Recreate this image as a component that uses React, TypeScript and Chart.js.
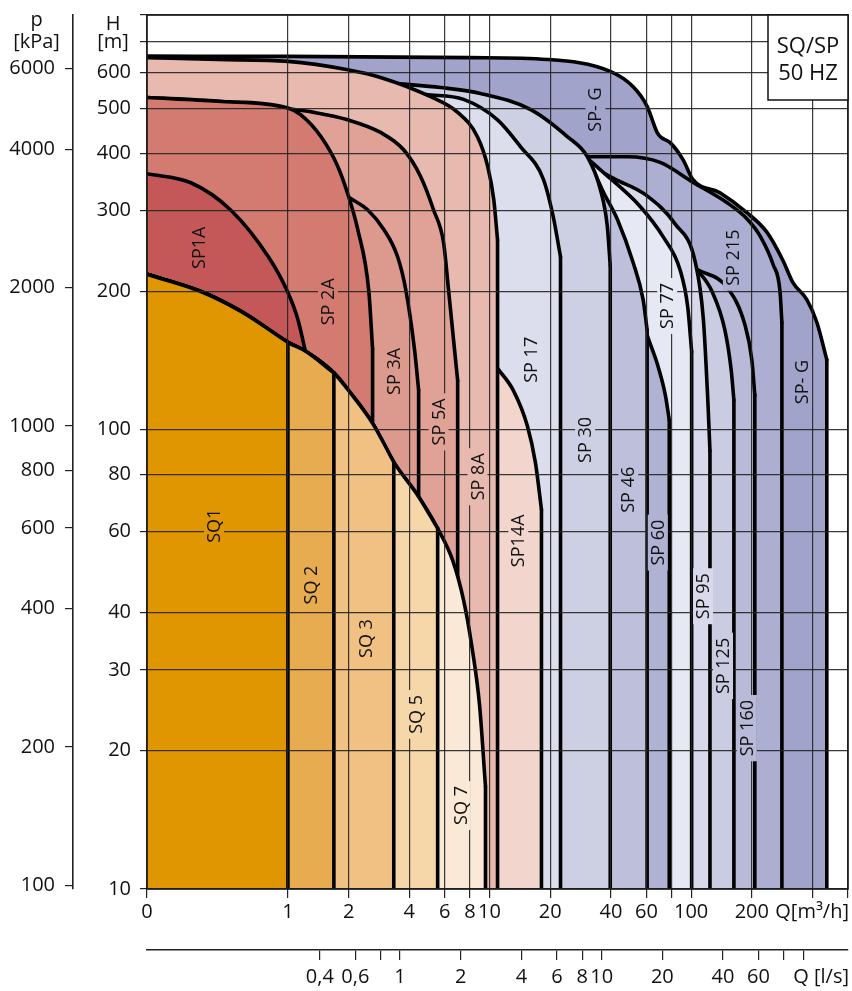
import React, { useEffect, useRef } from 'react';
import { Chart, registerables } from 'chart.js';

Chart.register(...registerables);

type Pt = [number, number];

// ---------- axes ----------
const Q_TICKS = [0.2, 1, 2, 4, 6, 8, 10, 20, 40, 60, 80, 100, 200, 400, 600];
const Q_LABELS = ['0', '1', '2', '4', '6', '8', '10', '20', '40', '60', '', '100', '200', '', ''];
const H_TICKS = [10, 20, 30, 40, 60, 80, 100, 200, 300, 400, 500, 600, 700, 800];
const H_LABELS = ['10', '20', '30', '40', '60', '80', '100', '200', '300', '400', '500', '600', '', ''];
const P_TICKS = [100, 200, 400, 600, 800, 1000, 2000, 4000, 6000];
const QLS_TICKS = [0.4, 0.6, 0.8, 1, 2, 4, 6, 8, 10, 20, 40, 60, 80, 100];
const QLS_LABELS = ['0,4', '0,6', '', '1', '2', '4', '6', '8', '10', '20', '40', '60', '', ''];

const Q_MIN = 0.2;
const Q_MAX = 600;
const H_MIN = 10;
const H_MAX = 800;
const KPA_PER_M = 9.81;
const M3H_PER_LS = 3.6;

// ---------- curves (Q [m3/h], H [m]) ----------
const SQ_ENVELOPE: Pt[] = [
  [0.2, 218], [0.37, 200], [0.585, 181], [1, 155], [1.23, 148], [1.69, 133], [2.05, 120],
  [2.64, 103], [3.35, 85], [4.45, 71.5], [5.53, 61], [6.56, 52], [7.43, 42.6], [8.15, 34],
  [8.92, 25.2], [9.55, 16.7],
];
const SQ_END = { SQ1: 1, SQ2: 1.69, SQ3: 3.35, SQ5: 5.53, SQ7: 9.55 };

const SP1A: Pt[] = [[0.2, 361], [0.33, 345], [0.52, 301], [0.8, 238], [1, 199], [1.12, 174], [1.23, 146]];
const SP2A: Pt[] = [[0.2, 529], [0.45, 519], [1, 502], [1.16, 485], [1.457, 435], [1.77, 374], [2.0, 322], [2.22, 273], [2.52, 200], [2.63, 150]];
const SP3A: Pt[] = [[2.02, 320], [2.49, 301], [2.99, 273], [3.5, 238], [3.84, 202], [4.25, 149], [4.45, 122]];
const SP5A: Pt[] = [[0.2, 529], [0.45, 519], [1, 500], [1.345, 491], [1.98, 473], [2.88, 444], [3.75, 407], [4.55, 356], [5.28, 301], [5.92, 255], [6.26, 202], [6.63, 157], [6.95, 128]];
const SP8A: Pt[] = [[0.2, 646], [0.45, 640], [1, 634], [1.98, 608], [2.88, 585], [5.1, 531], [6.95, 491], [8.7, 435], [9.8, 374], [10.5, 317], [10.96, 259]];
const SP14A: Pt[] = [[10.96, 136], [13.1, 122], [15.4, 102], [16.9, 84.7], [18.1, 67]];
const SP17: Pt[] = [[4.82, 537], [7.43, 524], [10.96, 473], [14.2, 414], [18.5, 351], [20.7, 291], [22.5, 238]];
const SP30: Pt[] = [[3.5, 567], [5.72, 556], [9.02, 540], [16, 498], [24.3, 435], [30.6, 393], [35.5, 333], [38.4, 277], [39.7, 228]];
const SP46: Pt[] = [[31.3, 385], [36.6, 330], [43.1, 287], [51.6, 231], [57.8, 192], [60.5, 165]];
const SP60: Pt[] = [[56, 182], [60.5, 161], [68, 139], [74.5, 119], [77.9, 105]];
const SP77: Pt[] = [[31, 388], [35.5, 368], [56, 306], [72.7, 263], [88.1, 223], [96.2, 185], [100.6, 148]];
const SP95: Pt[] = [[32, 374], [42.1, 351], [59.3, 325], [83.6, 280], [104.8, 232], [115, 174], [121, 116], [124, 90]];
const SP125: Pt[] = [[105, 226], [127, 200], [147, 165], [158, 135], [163, 116]];
const SP160: Pt[] = [[108, 223], [151, 204], [185, 169], [200, 142], [207, 119]];
const SP215: Pt[] = [[30.6, 393], [48.2, 393], [70.2, 382], [101.9, 346], [151, 312], [189, 288], [220, 264], [255, 229], [276, 200], [282, 171]];
const SPG: Pt[] = [[0.2, 651], [1, 650], [8, 646], [19.4, 640], [39.7, 603], [51.6, 558], [60.5, 506], [68, 443], [71, 433], [78.7, 422], [91.3, 387], [101.9, 351], [139, 328], [189, 297], [238, 269], [285, 234], [320, 209], [375, 192], [421, 171], [471, 142]];

const sq = (end: number): Pt[] => SQ_ENVELOPE.filter((p) => p[0] <= end + 1e-9);

// listed top (drawn last) to bottom (drawn first)
const REGIONS: { key: string; color: string; curve: Pt[] }[] = [
  { key: 'SQ1', color: '#E09600', curve: sq(SQ_END.SQ1) },
  { key: 'SQ2', color: '#E8AC50', curve: sq(SQ_END.SQ2) },
  { key: 'SQ3', color: '#F0C182', curve: sq(SQ_END.SQ3) },
  { key: 'SQ5', color: '#F6D7A9', curve: sq(SQ_END.SQ5) },
  { key: 'SQ7', color: '#FAE9D6', curve: sq(SQ_END.SQ7) },
  { key: 'SP1A', color: '#C45858', curve: SP1A },
  { key: 'SP2A', color: '#D47B71', curve: SP2A },
  { key: 'SP3A', color: '#DC9A8E', curve: SP3A },
  { key: 'SP5A', color: '#E0A296', curve: SP5A },
  { key: 'SP8A', color: '#E8B9AF', curve: SP8A },
  { key: 'SP14A', color: '#F2D6CE', curve: SP14A },
  { key: 'SP17', color: '#DCDDED', curve: SP17 },
  { key: 'SP30', color: '#CDD0E3', curve: SP30 },
  { key: 'SP46', color: '#BDBFDB', curve: SP46 },
  { key: 'SP60', color: '#B0B2D4', curve: SP60 },
  { key: 'SP77', color: '#E6E8F4', curve: SP77 },
  { key: 'SP95', color: '#D8DAEB', curve: SP95 },
  { key: 'SP125', color: '#CACCE1', curve: SP125 },
  { key: 'SP160', color: '#B8BAD8', curve: SP160 },
  { key: 'SP215', color: '#ADAFD2', curve: SP215 },
  { key: 'SPG', color: '#A1A3CB', curve: SPG },
];

const LABELS: { text: string; q: number; h: number; region: string }[] = [
  { text: 'SQ1', q: 0.43, h: 61.8, region: 'SQ1' },
  { text: 'SQ 2', q: 1.3, h: 45.9, region: 'SQ2' },
  { text: 'SQ 3', q: 2.43, h: 35.1, region: 'SQ3' },
  { text: 'SQ 5', q: 4.3, h: 24.0, region: 'SQ5' },
  { text: 'SQ 7', q: 7.19, h: 15.2, region: 'SQ7' },
  { text: 'SP1A', q: 0.362, h: 249, region: 'SP1A' },
  { text: 'SP 2A', q: 1.58, h: 190, region: 'SP2A' },
  { text: 'SP 3A', q: 3.35, h: 134, region: 'SP3A' },
  { text: 'SP 5A', q: 5.59, h: 104, region: 'SP5A' },
  { text: 'SP 8A', q: 8.72, h: 79, region: 'SP8A' },
  { text: 'SP14A', q: 13.9, h: 57.3, region: 'SP14A' },
  { text: 'SP 17', q: 16.1, h: 142, region: 'SP17' },
  { text: 'SP 30', q: 29.8, h: 95, region: 'SP30' },
  { text: 'SP 46', q: 48.8, h: 74, region: 'SP46' },
  { text: 'SP 60', q: 68.3, h: 56.8, region: 'SP60' },
  { text: 'SP 77', q: 76.1, h: 186, region: 'SP77' },
  { text: 'SP 95', q: 114.6, h: 43.4, region: 'SP95' },
  { text: 'SP 125', q: 144, h: 30.6, region: 'SP125' },
  { text: 'SP 160', q: 189, h: 22.4, region: 'SP160' },
  { text: 'SP 215', q: 161, h: 237, region: 'SP215' },
  { text: 'SP- G', q: 33.5, h: 498, region: 'SPG' },
  { text: 'SP- G', q: 355, h: 127, region: 'SPG' },
];

const FONT = '"Open Sans", "Noto Sans", "DejaVu Sans", sans-serif';
const GRID = 'rgba(35,35,35,0.9)';
const INK = '#111';
const LINE_W = 3.6;

const decor = {
  id: 'decor',
  afterDraw(chart: any) {
    const { ctx, chartArea: a, scales } = chart;
    const xs = scales.x;
    const ys = scales.y;
    ctx.save();
    ctx.strokeStyle = '#1a1a1a';
    ctx.lineWidth = 1.6;
    ctx.strokeRect(a.left, a.top, a.right - a.left, a.bottom - a.top);

    ctx.font = `18px ${FONT}`;
    for (const L of LABELS) {
      const reg = REGIONS.find((r) => r.key === L.region);
      const px = xs.getPixelForValue(L.q);
      const py = ys.getPixelForValue(L.h);
      const w = ctx.measureText(L.text).width;
      ctx.save();
      ctx.translate(px, py);
      ctx.rotate(-Math.PI / 2);
      ctx.fillStyle = reg ? reg.color : '#fff';
      ctx.fillRect(-w / 2 - 5, -10, w + 10, 20);
      ctx.fillStyle = INK;
      ctx.textAlign = 'center';
      ctx.textBaseline = 'middle';
      ctx.fillText(L.text, 0, 1);
      ctx.restore();
    }

    const bw = 80;
    const bh = 85;
    ctx.fillStyle = '#fff';
    ctx.fillRect(a.right - bw, a.top, bw, bh);
    ctx.strokeStyle = '#111';
    ctx.lineWidth = 1.5;
    ctx.strokeRect(a.right - bw, a.top, bw, bh);
    ctx.fillStyle = INK;
    ctx.font = `22px ${FONT}`;
    ctx.textAlign = 'center';
    ctx.textBaseline = 'alphabetic';
    ctx.fillText('SQ/SP', a.right - bw / 2, a.top + 38);
    ctx.fillText('50 HZ', a.right - bw / 2, a.top + 65);

    ctx.font = `20px ${FONT}`;
    const pc = (scales.p.left + scales.p.right) / 2;
    ctx.fillText('p', pc, 26);
    ctx.fillText('[kPa]', pc, 48);
    const hc = ys.right - 34;
    ctx.fillText('H', hc, 30);
    ctx.fillText('[m]', hc, 48);

    ctx.textAlign = 'right';
    ctx.textBaseline = 'middle';
    ctx.fillText('Q[m\u00B3/h]', a.right + 1, xs.top + 23);
    ctx.fillText('Q [l/s]', a.right + 1, scales.x2.top + 27);
    ctx.restore();
  },
};

const tickFont = { family: FONT, size: 20 };

const setTicks = (values: number[]) => (axis: any) => {
  axis.ticks = values.map((v) => ({ value: v }));
};

export default function App() {
  const ref = useRef<HTMLCanvasElement>(null);
  useEffect(() => {
    const el = ref.current;
    if (!el) return;
    const datasets: any[] = [];
    for (const r of REGIONS) {
      const last = r.curve[r.curve.length - 1];
      datasets.push({
        label: r.key + ' end',
        data: [{ x: last[0], y: last[1] }, { x: last[0], y: H_MIN }],
        xAxisID: 'x',
        yAxisID: 'y',
        borderColor: '#000',
        borderWidth: LINE_W,
        fill: false,
        pointRadius: 0,
        tension: 0,
        borderCapStyle: 'round',
        clip: 0,
      });
      datasets.push({
        label: r.key,
        data: r.curve.map(([x, y]) => ({ x, y })),
        xAxisID: 'x',
        yAxisID: 'y',
        borderColor: '#000',
        borderWidth: LINE_W,
        backgroundColor: r.color,
        fill: 'start',
        pointRadius: 0,
        cubicInterpolationMode: 'monotone',
        borderJoinStyle: 'round',
        borderCapStyle: 'round',
        clip: 0,
      });
    }
    const chart = new Chart(el, {
      type: 'line',
      data: { datasets } as any,
      options: {
        animation: false,
        responsive: false,
        events: [],
        layout: { padding: { left: 0, top: 15, right: 4, bottom: 0 } },
        plugins: { legend: { display: false }, tooltip: { enabled: false } },
        scales: {
          x: {
            type: 'logarithmic',
            position: 'bottom',
            weight: 0,
            min: Q_MIN,
            max: Q_MAX,
            afterBuildTicks: setTicks(Q_TICKS),
            afterFit: (s: any) => {
              s.height = 61;
              s.paddingLeft = 0;
              s.paddingRight = 0;
            },
            ticks: {
              autoSkip: false,
              maxRotation: 0,
              minRotation: 0,
              padding: 2,
              color: INK,
              font: tickFont,
              callback: (_v: any, i: number) => Q_LABELS[i],
            },
            grid: { z: 1, color: GRID, lineWidth: 1.2, tickLength: 9, tickColor: '#222' },
            border: { display: false },
          },
          x2: {
            type: 'logarithmic',
            position: 'bottom',
            weight: 1,
            min: Q_MIN / M3H_PER_LS,
            max: Q_MAX / M3H_PER_LS,
            afterBuildTicks: setTicks(QLS_TICKS),
            afterFit: (s: any) => {
              s.height = 41;
              s.paddingLeft = 0;
              s.paddingRight = 0;
            },
            ticks: {
              autoSkip: false,
              maxRotation: 0,
              minRotation: 0,
              padding: 5,
              color: INK,
              font: tickFont,
              callback: (_v: any, i: number) => QLS_LABELS[i],
            },
            grid: { drawOnChartArea: false, color: '#222', lineWidth: 1.2, tickLength: 10 },
            border: { display: true, color: '#222', width: 1.6 },
          },
          y: {
            type: 'logarithmic',
            position: 'left',
            weight: 0,
            min: H_MIN,
            max: H_MAX,
            afterBuildTicks: setTicks(H_TICKS),
            afterFit: (s: any) => {
              s.width = 74;
              s.paddingTop = 0;
              s.paddingBottom = 0;
            },
            ticks: {
              autoSkip: false,
              padding: 9,
              color: INK,
              font: tickFont,
              callback: (_v: any, i: number) => H_LABELS[i],
            },
            grid: { z: 1, color: GRID, lineWidth: 1.2, tickLength: 7, tickColor: '#222' },
            border: { display: false },
          },
          p: {
            type: 'logarithmic',
            position: 'left',
            weight: 1,
            min: H_MIN * KPA_PER_M,
            max: H_MAX * KPA_PER_M,
            afterBuildTicks: setTicks(P_TICKS),
            afterFit: (s: any) => {
              s.width = 73;
              s.paddingTop = 0;
              s.paddingBottom = 0;
            },
            ticks: {
              autoSkip: false,
              padding: 10,
              color: INK,
              font: tickFont,
              callback: (v: any) => String(v),
            },
            grid: { drawOnChartArea: false, color: '#222', lineWidth: 1.2, tickLength: 8 },
            border: { display: true, color: '#222', width: 1.6 },
          },
        },
      } as any,
      plugins: [decor],
    });
    return () => chart.destroy();
  }, []);
  return (
    <div style={{ position: 'absolute', left: 0, top: 0, width: 852, height: 991, background: '#fff' }}>
      <canvas ref={ref} width={852} height={991} style={{ width: 852, height: 991, display: 'block' }} />
    </div>
  );
}
